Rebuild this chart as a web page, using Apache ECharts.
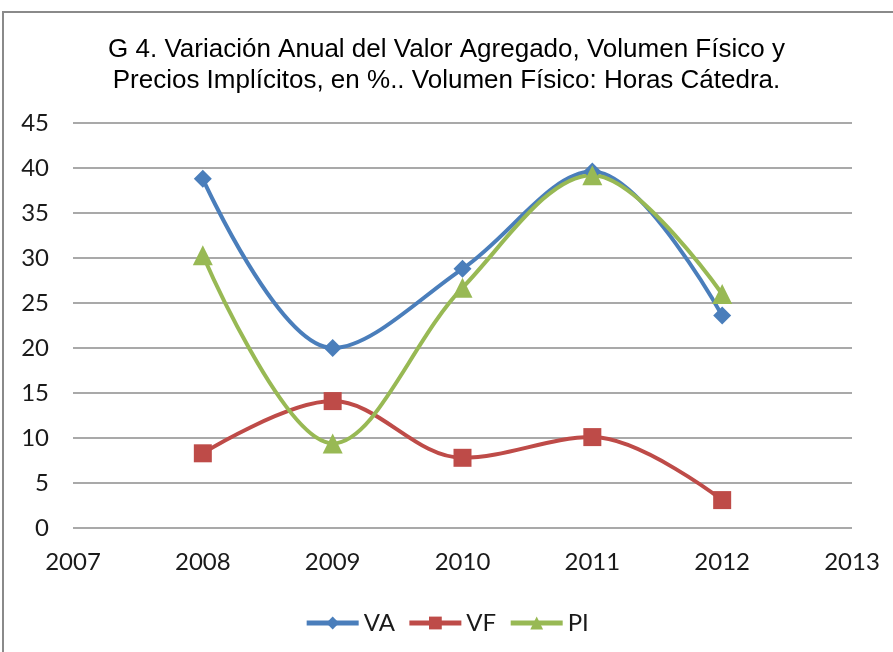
<!DOCTYPE html>
<html>
<head>
<meta charset="utf-8">
<script src="https://cdn.jsdelivr.net/npm/echarts@6/dist/echarts.min.js"></script>
<style>
  html, body { margin: 0; padding: 0; background: #fff; }
  #chart { width: 893px; height: 652px; }
</style>
</head>
<body>
<div id="chart"></div>
<script>
// datos
var years = [2008, 2009, 2010, 2011, 2012];
var va = [38.8, 20.0, 28.8, 39.6, 23.6]; // Valor Agregado
var vf = [8.3, 14.1, 7.8, 10.1, 3.1];    // Volumen Físico
var pi = [30.3, 9.4, 26.7, 39.2, 26.0];  // Precios Implícitos

function pares(vals) {
    return years.map(function (y, i) { return [y, vals[i]]; });
}

var myChart = echarts.init(document.getElementById('chart'));

var fuente = { fontFamily: 'Lato', fontSize: 24, color: '#1a1a1a' };

var option = {
    animation: false,
    backgroundColor: '#fff',
    title: {
        text: 'G 4. Variación Anual del Valor Agregado, Volumen Físico y\nPrecios Implícitos, en %.. Volumen Físico: Horas Cátedra.',
        left: 'center',
        top: 29,
        textStyle: {
            fontFamily: 'Liberation Sans',
            fontSize: 26,
            fontWeight: 'normal',
            color: '#000',
            lineHeight: 31
        }
    },
    graphic: [{
        type: 'rect',
        shape: { x: 3, y: 12, width: 1000, height: 1000 },
        style: { fill: 'none', stroke: '#8a8a8a', lineWidth: 2 }
    }],
    legend: {
        top: 606,
        left: 'center',
        itemWidth: 52,
        itemHeight: 16,
        itemGap: 12,
        lineStyle: { width: 5 },
        textStyle: fuente,
        data: ['VA', 'VF', 'PI']
    },
    grid: { left: 73, right: 41, top: 123, bottom: 124 },
    xAxis: {
        type: 'value',
        min: 2007,
        max: 2013,
        interval: 1,
        axisLine: { show: false },
        axisTick: { show: false },
        splitLine: { show: false },
        axisLabel: {
            fontFamily: fuente.fontFamily, fontSize: fuente.fontSize, color: fuente.color,
            margin: 22,
            formatter: function (v) { return String(v); }
        }
    },
    yAxis: {
        type: 'value',
        min: 0,
        max: 45,
        interval: 5,
        axisLine: { show: false },
        axisTick: { show: false },
        splitLine: { lineStyle: { color: '#8c8c8c', width: 1.5 } },
        axisLabel: {
            fontFamily: fuente.fontFamily, fontSize: fuente.fontSize, color: fuente.color,
            margin: 24
        }
    },
    series: [
        {
            name: 'VA', type: 'line', smooth: 0.35, data: pares(va),
            symbol: 'diamond', symbolSize: 18,
            lineStyle: { width: 4, color: '#4a7ebb' },
            itemStyle: { color: '#4a7ebb' }
        },
        {
            name: 'VF', type: 'line', smooth: 0.35, data: pares(vf),
            symbol: 'rect', symbolSize: 18,
            lineStyle: { width: 4, color: '#be4b48' },
            itemStyle: { color: '#be4b48' }
        },
        {
            name: 'PI', type: 'line', smooth: 0.35, data: pares(pi),
            symbol: 'triangle', symbolSize: 20,
            lineStyle: { width: 4, color: '#98b954' },
            itemStyle: { color: '#98b954' }
        }
    ]
};

myChart.setOption(option);
</script>
</body>
</html>
